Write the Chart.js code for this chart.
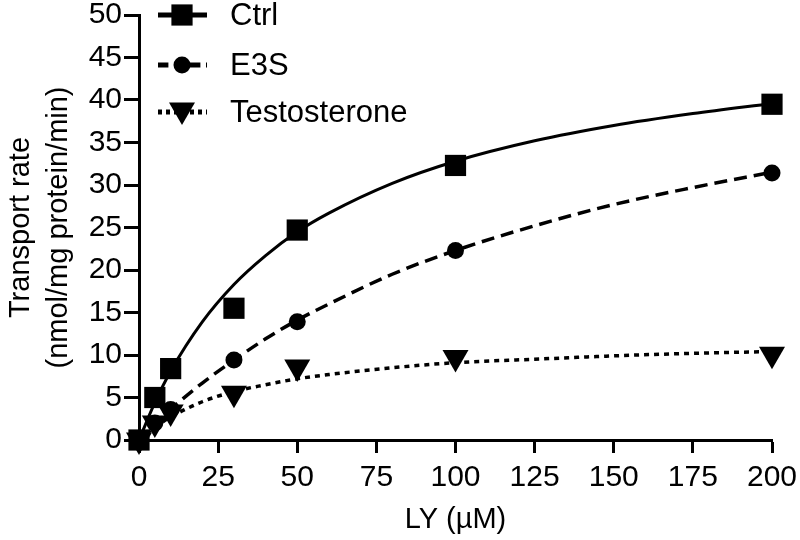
<!DOCTYPE html>
<html>
<head>
<meta charset="utf-8">
<script src="https://cdn.jsdelivr.net/npm/chart.js@4/dist/chart.umd.min.js"></script>
<style>
html,body{margin:0;padding:0;background:#fff;}
#wrap{width:800px;height:540px;position:relative;}
</style>
</head>
<body>
<div id="wrap"><canvas id="c" width="800" height="540"></canvas></div>
<script>
// ---- data ----
const seriesNames = ['Ctrl', 'E3S', 'Testosterone'];
const concentrations = [0, 5, 10, 30, 50, 100, 200];      // LY (µM)
const ctrlRates = [0, 5.0, 8.4, 15.5, 24.7, 32.3, 39.5];
const e3sRates = [0, 2.0, 3.6, 9.4, 13.9, 22.3, 31.4];
const testoRates = [0, 2.0, 3.3, 5.5, 8.6, 9.7, 10.1];

// fitted curves, values
const fitConcentrations = [0, 5, 10, 20, 30, 40, 50, 60, 80, 100, 125, 150, 175, 200];
const ctrlFit = [0, 4.4, 8.1, 13.9, 18.3, 21.7, 24.5, 26.7, 30.2, 32.8, 35.2, 37.0, 38.4, 39.6];
const e3sFit = [0, 1.8, 3.6, 6.7, 9.4, 11.9, 14.1, 16.0, 19.5, 22.3, 25.2, 27.7, 29.7, 31.5];
const testoFit = [0, 1.5, 2.7, 4.5, 5.7, 6.5, 7.2, 7.7, 8.5, 9.1, 9.5, 9.9, 10.2, 10.4];

const xTitle = 'LY (\u00B5M)';
const yTitle = ['Transport rate', '(nmol/mg protein/min)'];

// ---- build ----
const toPts = (xs, ys) => xs.map((x, i) => ({ x: x, y: ys[i] }));
const FONT = '"Liberation Sans", Arial, Helvetica, sans-serif';
Chart.defaults.font.family = FONT;
Chart.defaults.color = '#000';

const styles = [
  { pointStyle: 'rect', radius: 15, rotation: 0, dash: [], width: 3 },
  { pointStyle: 'circle', radius: 8.5, rotation: 0, dash: [13, 7], width: 3.5 },
  { pointStyle: 'triangle', radius: 15, rotation: 180, dash: [5, 5], width: 3.5 }
];
const rateSets = [ctrlRates, e3sRates, testoRates];
const fitSets = [ctrlFit, e3sFit, testoFit];

const datasets = [];
rateSets.forEach((r, i) => {
  const s = styles[i];
  datasets.push({
    label: seriesNames[i],
    data: toPts(concentrations, r),
    showLine: false,
    pointStyle: s.pointStyle,
    pointRadius: s.radius,
    pointRotation: s.rotation,
    pointBackgroundColor: '#000',
    pointBorderColor: '#000',
    pointBorderWidth: 0,
    clip: false
  });
});
fitSets.forEach((f, i) => {
  const s = styles[i];
  datasets.push({
    label: seriesNames[i] + ' fit',
    data: toPts(fitConcentrations, f),
    showLine: true,
    borderColor: '#000',
    borderWidth: s.width,
    borderDash: s.dash,
    pointRadius: 0,
    cubicInterpolationMode: 'monotone',
    fill: false,
    clip: false
  });
});

const legendPlugin = {
  id: 'prismLegend',
  afterDraw(chart) {
    const ctx = chart.ctx;
    const x0 = 158, x1 = 207, mx = 182, tx = 230;
    const ys = [15, 65, 112];
    ctx.save();
    seriesNames.forEach((name, i) => {
      const s = styles[i];
      const y = ys[i];
      ctx.beginPath();
      ctx.setLineDash(s.dash.length ? s.dash.map(v => v * 0.8) : []);
      ctx.lineWidth = 5;
      ctx.strokeStyle = '#000';
      ctx.moveTo(x0, y);
      ctx.lineTo(x1, y);
      ctx.stroke();
      ctx.setLineDash([]);
      ctx.fillStyle = '#000';
      ctx.strokeStyle = '#000';
      Chart.helpers.drawPoint(ctx, {
        pointStyle: s.pointStyle,
        radius: s.radius,
        rotation: s.rotation,
        borderWidth: 0
      }, mx, i === 2 ? y - 2 : y);
      ctx.fillStyle = '#000';
      ctx.font = '31px ' + FONT;
      ctx.textBaseline = 'middle';
      ctx.textAlign = 'left';
      ctx.fillText(name, tx, y + 1);
    });
    ctx.restore();
  }
};

new Chart(document.getElementById('c'), {
  type: 'scatter',
  data: { datasets: datasets },
  options: {
    responsive: false,
    animation: false,
    devicePixelRatio: 1,
    layout: { padding: { top: 15, right: 28, left: 0, bottom: 0 } },
    plugins: { legend: { display: false }, tooltip: { enabled: false } },
    scales: {
      x: {
        type: 'linear',
        min: 0, max: 200,
        ticks: { stepSize: 25, font: { size: 30 }, color: '#000', padding: 7, maxRotation: 0 },
        grid: { drawOnChartArea: false, drawTicks: true, tickLength: 13, tickWidth: 3, tickColor: '#000' },
        border: { display: true, color: '#000', width: 3 },
        title: { display: true, text: xTitle, font: { size: 29 }, color: '#000', padding: { top: 0, bottom: 3 } },
        afterFit(scale) { scale.height = 100; scale.paddingLeft = 0; scale.paddingRight = 0; }
      },
      y: {
        type: 'linear',
        min: 0, max: 50,
        ticks: { stepSize: 5, font: { size: 30 }, color: '#000', padding: 2 },
        grid: { drawOnChartArea: false, drawTicks: true, tickLength: 15, tickWidth: 3, tickColor: '#000' },
        border: { display: true, color: '#000', width: 3 },
        title: { display: true, text: yTitle, font: { size: 29, lineHeight: 1.3 }, color: '#000', padding: { top: 2, bottom: 0 } },
        afterFit(scale) { scale.width = 139; scale.paddingTop = 0; scale.paddingBottom = 0; }
      }
    }
  },
  plugins: [legendPlugin]
});
</script>
</body>
</html>
